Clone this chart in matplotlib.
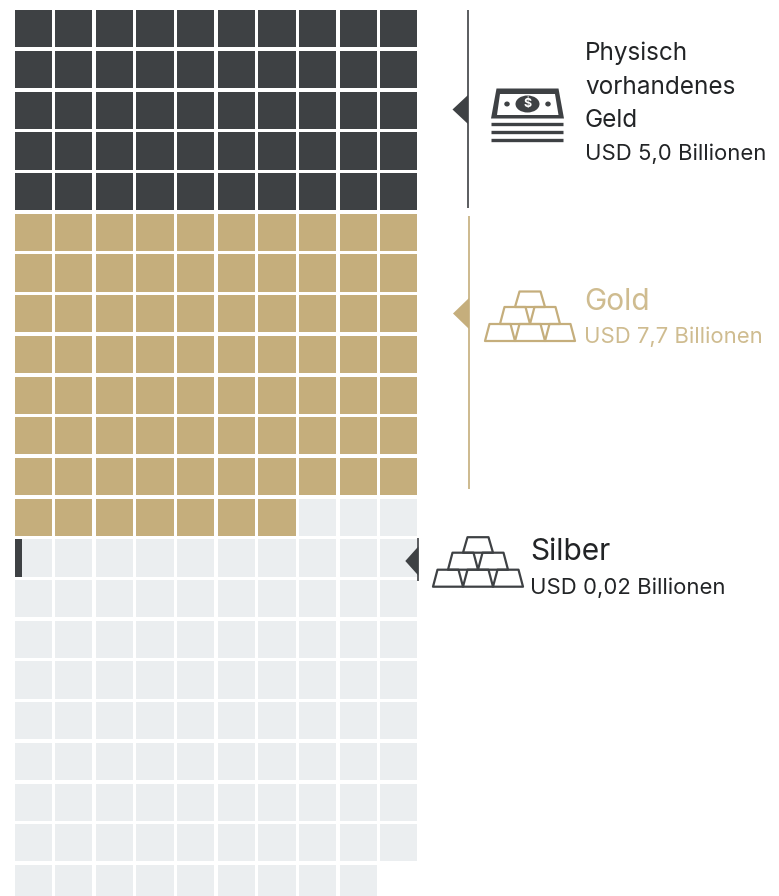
import matplotlib
matplotlib.use("Agg")
import matplotlib.pyplot as plt
from matplotlib.patches import Ellipse, Polygon

plt.rcParams['font.family'] = ['Inter', 'DejaVu Sans']

# one square stands for USD 0.1 trillion
unit = 0.1
money_value = 5.0
gold_value = 7.7
silver_value = 0.02
other_cells = 92

dark = "#3e4144"
gold = "#c5ae7c"
gold_text = "#cfbc90"
grey = "#ebeef0"

columns = 10
cell = 37.2
pitch_x = 40.62
pitch_y = 40.7
x0 = 14.6
y0 = 10.3


def cell_pos(i):
    row, col = divmod(i, columns)
    return x0 + col * pitch_x, y0 + row * pitch_y


def draw_cells(ax, start, count, color):
    xs, ys = zip(*[cell_pos(i) for i in range(start, start + count)])
    ax.bar(xs, cell, width=cell, bottom=ys, align="edge", color=color,
           edgecolor="none", linewidth=0)


def draw_bars(ax, dx, dy, color):
    # pile of six ingots, outlines only
    rows = [(324, 341, [485, 515, 545]), (307, 324, [500, 530]), (291.5, 307, [515])]
    for top, bottom, lefts in rows:
        for left in lefts:
            pts = [(left + dx, bottom + dy), (left + 30 + dx, bottom + dy),
                   (left + 25.5 + dx, top + dy), (left + 4.5 + dx, top + dy)]
            ax.add_patch(Polygon(pts, closed=True, fill=False, edgecolor=color,
                                 linewidth=1.6, joinstyle="round"))


def draw_money(ax):
    ax.add_patch(Polygon([(491, 118.5), (564, 118.5), (558.5, 88.5), (496.5, 88.5)],
                         closed=True, color=dark, linewidth=0))
    ax.add_patch(Polygon([(497, 115), (558.5, 115), (555, 94), (500, 94)],
                         closed=True, color="white", linewidth=0))
    ax.add_patch(Ellipse((527.5, 104), 24, 17, color=dark, linewidth=0))
    ax.add_patch(Ellipse((507, 104), 5.5, 5, color=dark, linewidth=0))
    ax.add_patch(Ellipse((548, 104), 5.5, 5, color=dark, linewidth=0))
    ax.text(527.5, 104.5, "$", color="white", fontsize=9, fontweight="bold",
            ha="center", va="center")
    for y in [124.3, 132, 140]:
        ax.plot([491.5, 563], [y, y], color=dark, linewidth=2.4,
                solid_capstyle="butt")


def draw_marker(ax, x, y_start, y_end, tip_x, tip_y, half, color, lw=1.2):
    ax.plot([x, x], [y_start, y_end], color=color, linewidth=lw,
            solid_capstyle="butt")
    ax.add_patch(Polygon([(tip_x, tip_y), (x, tip_y - half), (x, tip_y + half)],
                         closed=True, color=color, linewidth=0))


fig = plt.figure(figsize=(7.79, 8.96), dpi=100)
ax = fig.add_axes([0, 0, 1, 1])
ax.set_xlim(0, 779)
ax.set_ylim(896, 0)
ax.axis("off")

money_cells = round(money_value / unit)
gold_cells = round(gold_value / unit)

draw_cells(ax, 0, money_cells, dark)
draw_cells(ax, money_cells, gold_cells, gold)
draw_cells(ax, money_cells + gold_cells, other_cells, grey)

# silver fills only a fraction of the first square of row 14
sx, sy = cell_pos(130)
ax.bar(sx, cell, width=cell * silver_value / unit, bottom=sy, align="edge",
       color=dark, linewidth=0)

draw_marker(ax, 468, 10.5, 208, 452.5, 109.5, 14.5, dark)
draw_marker(ax, 469, 216, 489, 453, 313.5, 15.5, gold)
draw_marker(ax, 418.3, 538, 581, 405.3, 561, 14.5, dark)

draw_money(ax)
draw_bars(ax, 0, 0, gold)
draw_bars(ax, -52, 245.7, dark)

big = 17.5
small = 15.9
black = "#222426"
for y, s in [(60, "Physisch"), (94, "vorhandenes"), (127, "Geld")]:
    ax.text(585, y, s, fontsize=big, color=black, va="baseline")
ax.text(585, 160.5, "USD 5,0 Billionen", fontsize=small, color=black, va="baseline")
ax.text(584, 309.5, "Gold", fontsize=21.5, color=gold_text, va="baseline")
ax.text(584, 343, "USD 7,7 Billionen", fontsize=small, color=gold_text, va="baseline")
ax.text(530.5, 560, "Silber", fontsize=21.5, color=black, va="baseline")
ax.text(530.5, 594, "USD 0,02 Billionen", fontsize=small, color=black, va="baseline")

fig.savefig("out.png", dpi=100)
